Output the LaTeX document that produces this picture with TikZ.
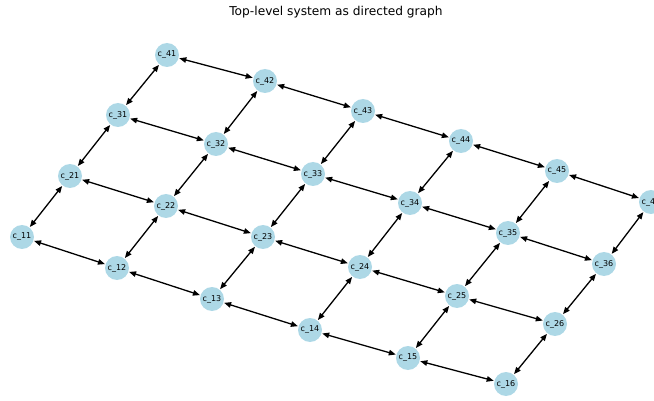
\documentclass[tikz,border=0pt]{standalone}
\usepackage{fontspec}
\setmainfont{DejaVu Sans}
\usetikzlibrary{arrows.meta}
\definecolor{nodeblue}{HTML}{ADD8E6}
\tikzset{
  vtx/.style={circle, fill=nodeblue, minimum size=24pt, inner sep=0pt, font=\fontsize{8}{9}\selectfont},
  link/.style={line width=1.3pt, {Triangle[length=7pt,width=5.5pt]}-{Triangle[length=7pt,width=5.5pt]}, shorten <=0.5pt, shorten >=0.5pt}
}
\begin{document}
\begin{tikzpicture}[x=1pt,y=-1pt]
\useasboundingbox (0,0) rectangle (654,401);
\node[font=\fontsize{12.2}{14}\selectfont] (title) at (336,12) {Top-level system as directed graph};
\node[vtx] (c11) at (22,237) {c\_11};
\node[vtx] (c12) at (117,268) {c\_12};
\node[vtx] (c13) at (212,299) {c\_13};
\node[vtx] (c14) at (310,330) {c\_14};
\node[vtx] (c15) at (408,358) {c\_15};
\node[vtx] (c16) at (506,384) {c\_16};
\node[vtx] (c21) at (70,176) {c\_21};
\node[vtx] (c22) at (166,206) {c\_22};
\node[vtx] (c23) at (263,237) {c\_23};
\node[vtx] (c24) at (360,267) {c\_24};
\node[vtx] (c25) at (457,296) {c\_25};
\node[vtx] (c26) at (555,324) {c\_26};
\node[vtx] (c31) at (118,115) {c\_31};
\node[vtx] (c32) at (216,144) {c\_32};
\node[vtx] (c33) at (313,174) {c\_33};
\node[vtx] (c34) at (410,203) {c\_34};
\node[vtx] (c35) at (508,233) {c\_35};
\node[vtx] (c36) at (604,264) {c\_36};
\node[vtx] (c41) at (167,55) {c\_41};
\node[vtx] (c42) at (265,81) {c\_42};
\node[vtx] (c43) at (363,111) {c\_43};
\node[vtx] (c44) at (461,141) {c\_44};
\node[vtx] (c45) at (557,171) {c\_45};
\node[vtx] (c46) at (651,202) {c\_46};
\foreach \i in {1,...,4}{
  \foreach \j/\k in {1/2,2/3,3/4,4/5,5/6}{
    \draw[link] (c\i\j) -- (c\i\k);
  }
}
\foreach \i/\n in {1/2,2/3,3/4}{
  \foreach \j in {1,...,6}{
    \draw[link] (c\i\j) -- (c\n\j);
  }
}
\end{tikzpicture}
\end{document}
